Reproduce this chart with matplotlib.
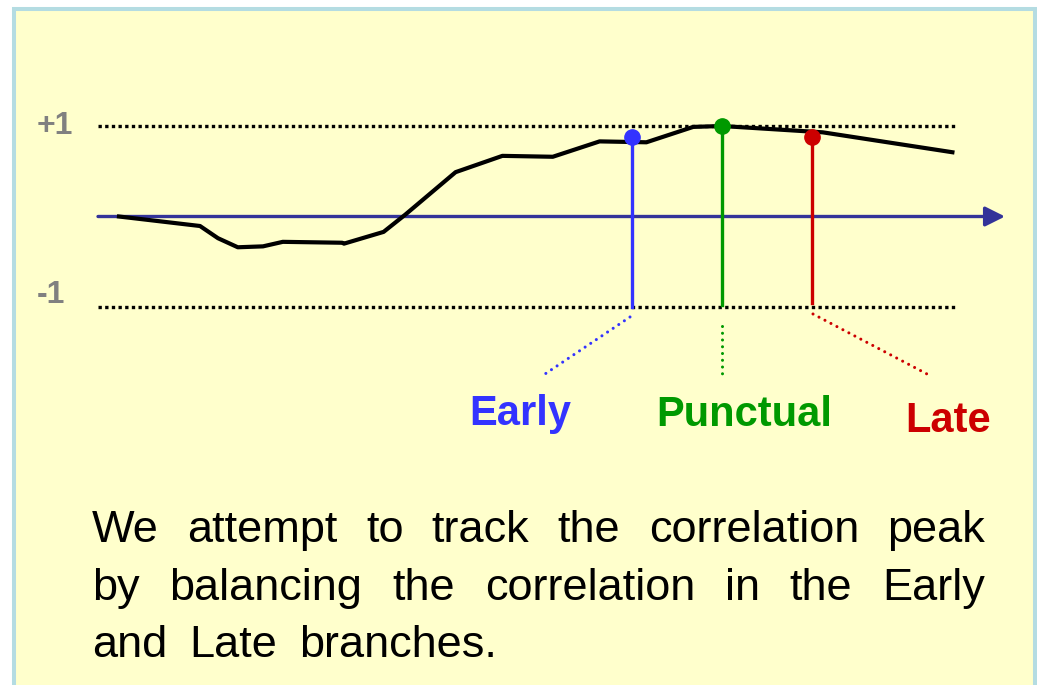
import matplotlib
matplotlib.use("Agg")
import matplotlib.pyplot as plt
from matplotlib.patches import Rectangle

# correlation curve: code delay (chips) vs normalised correlation
tau = [-3.35, -2.90, -2.80, -2.69, -2.55, -2.44, -2.11, -2.10, -1.88,
       -1.76, -1.48, -1.22, -0.94, -0.68, -0.42, -0.16, 0.0, 0.56, 1.28]
corr = [0.0, -0.105, -0.24, -0.34, -0.33, -0.28, -0.29, -0.30, -0.17,
        0.02, 0.49, 0.67, 0.66, 0.83, 0.82, 0.99, 1.0, 0.93, 0.71]

branch_names = ["Early", "Punctual", "Late"]
branch_tau = [-0.5, 0.0, 0.5]
branch_corr = [0.88, 1.0, 0.88]
branch_bottom = [-1.0, -0.98, -0.96]
branch_colors = ["#3333FF", "#009900", "#CC0000"]

body_lines = [
    "We attempt to track the correlation peak",
    "by balancing the correlation in the Early",
    "and Late branches.",
]

W, H = 1037, 685
PX_PER_CHIP = 180.0
PX_PER_UNIT = 90.5
X0, Y0 = 722.0, 216.5   # pixel position of (0, 0)

fig = plt.figure(figsize=(W / 100, H / 100), dpi=100)
fig.patch.set_facecolor("white")
ax = fig.add_axes([0, 0, 1, 1])
ax.set_xlim(-X0 / PX_PER_CHIP, (W - X0) / PX_PER_CHIP)
ax.set_ylim((Y0 - H) / PX_PER_UNIT, Y0 / PX_PER_UNIT)
ax.axis("off")


def px(x):
    return (x - X0) / PX_PER_CHIP


def py(y):
    return (Y0 - y) / PX_PER_UNIT


# slide panel
ax.add_patch(Rectangle((14 / W, -0.05), (1035 - 14) / W, 1.05 - 9 / H,
                       transform=ax.transAxes, facecolor="#FFFFCC",
                       edgecolor="#B4DCE2", linewidth=2.9, zorder=0))

# +1 / -1 reference levels
for level in (1, -1):
    ax.plot([px(98), px(957)], [level, level], color="black", lw=2.4,
            linestyle=(0, (1, 1)), dash_capstyle="butt", zorder=2)
ax.text(px(37), 1.0, "+1", color="#808080", fontsize=23, fontweight="bold",
        ha="left", va="center", family="Liberation Sans")
ax.text(px(37), -0.87, "-1", color="#808080", fontsize=23, fontweight="bold",
        ha="left", va="center", family="Liberation Sans")

# delay axis
ax.annotate("", xy=(px(1005), 0), xytext=(px(98), 0),
            arrowprops=dict(arrowstyle="-|>,head_length=0.6,head_width=0.3",
                            mutation_scale=20, color="#333399", lw=2.4,
                            shrinkA=0, shrinkB=0), zorder=3)

# correlation function
ax.plot(tau, corr, color="black", lw=3.0, solid_joinstyle="round", zorder=4)

# branches
label_pos = [(520, 425), (744, 426), (948, 432)]
leader = [((630, 317), (542, 376)), ((722, 326), (722, 375)),
          ((813, 314), (927, 374))]
for name, t, c, b, col, (lx, ly), (p0, p1) in zip(
        branch_names, branch_tau, branch_corr, branch_bottom,
        branch_colors, label_pos, leader):
    ax.plot([t, t], [b, c], color=col, lw=2.4, zorder=5)
    ax.plot([t], [c], "o", color=col, markersize=11, zorder=6)
    ax.plot([px(p0[0]), px(p1[0])], [py(p0[1]), py(p1[1])], color=col,
            lw=2.2, linestyle=(0, (0.01, 2.2)), dash_capstyle="round",
            zorder=5)
    ax.text(px(lx), py(ly), name, color=col, fontsize=30, fontweight="bold",
            ha="center", va="baseline", family="Liberation Sans")

# justified body text
renderer = fig.canvas.get_renderer()
left = 92
rights = [985, 985, 497]
baselines = [542, 600, 657]
for line, base, right in zip(body_lines, baselines, rights):
    words = line.split()
    arts = [ax.text(0, py(base), w_, fontsize=32.5, ha="left", va="baseline",
                    family="Liberation Sans", color="black") for w_ in words]
    widths = [a.get_window_extent(renderer).width for a in arts]
    gap = (right - left - sum(widths)) / (len(words) - 1)
    x = left
    for a, wd in zip(arts, widths):
        a.set_x(px(x))
        x += wd + gap

fig.savefig("out.png", dpi=100, facecolor=fig.get_facecolor())
